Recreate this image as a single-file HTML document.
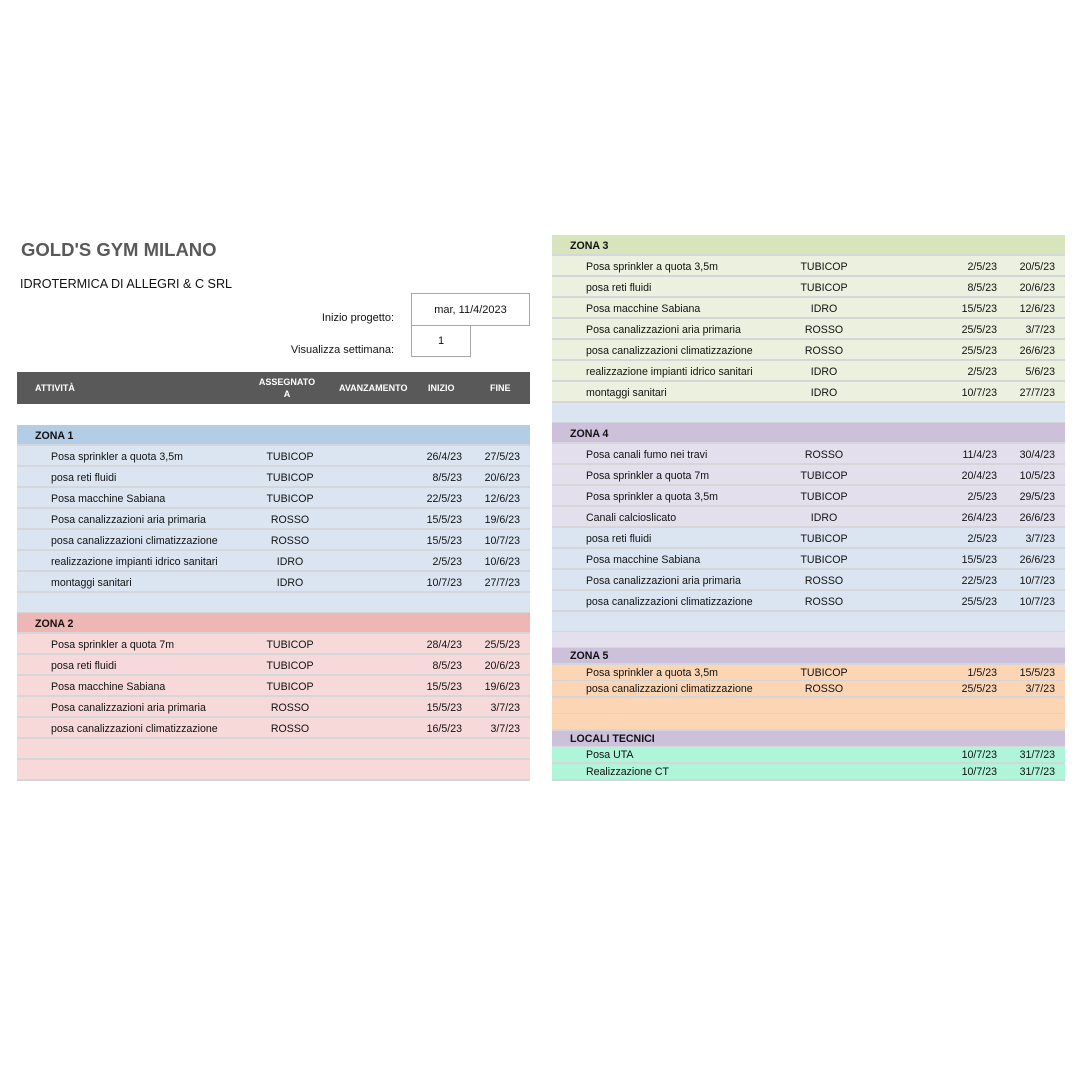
<!DOCTYPE html>
<html><head><meta charset="utf-8"><style>
body{margin:0;width:1080px;height:1080px;background:#fff;position:relative;font-family:"Liberation Sans",Arial,sans-serif;color:#111;overflow:hidden}
.a{position:absolute}
.r{position:absolute;height:19px;border-bottom:2px solid #d4d6d9;font-size:10.6px;line-height:22px;box-sizing:content-box}
.r span{position:absolute;white-space:nowrap}
.L{left:17px;width:513px}.R{left:552px;width:513px}
.L .t{left:34px}.L .z{left:18px;font-weight:bold}.L .s{left:213px;width:120px;text-align:center}.L .i{right:68px}.L .f{right:10px}
.R .t{left:34px}.R .z{left:18px;font-weight:bold}.R .s{left:212px;width:120px;text-align:center}.R .i{right:68px}.R .f{right:10px}
.b1h{background:#b4cde6}.b1{background:#dae5f1}
.b2h{background:#efb6b6}.b2{background:#f7d9d9}
.b3h{background:#d8e4bc}.b3{background:#ebf1de}
.b4h{background:#ccc0da}.b4{background:#e4dfec}
.b5{background:#fcd5b4}.b6{background:#aff5d9}
.sm{height:15px;line-height:17px}
</style></head><body>
<div class="a" style="left:21px;top:239px;font-size:18.5px;font-weight:bold;color:#595959">GOLD'S GYM MILANO</div>
<div class="a" style="left:20px;top:277px;font-size:12.6px">IDROTERMICA DI ALLEGRI &amp; C SRL</div>
<div class="a" style="left:250px;width:144px;text-align:right;top:312px;font-size:11px">Inizio progetto:</div>
<div class="a" style="left:250px;width:144px;text-align:right;top:344px;font-size:11px">Visualizza settimana:</div>
<div class="a" style="left:411px;top:293px;width:117px;height:31px;border:1px solid #a6a6a6;font-size:11px;text-align:center;line-height:32px">mar, 11/4/2023</div>
<div class="a" style="left:411px;top:325px;width:58px;height:31px;border:1px solid #a6a6a6;border-top:none;font-size:11px;text-align:center;line-height:32px">1</div>
<div class="a" style="left:17px;top:372px;width:513px;height:32px;background:#595959;color:#fff;font-size:9px;font-weight:bold">
<span class="a" style="left:18px;top:11px">ATTIVITÀ</span>
<span class="a" style="left:240px;width:60px;text-align:center;top:4px;line-height:12px">ASSEGNATO<br>A</span>
<span class="a" style="left:322px;top:11px">AVANZAMENTO</span>
<span class="a" style="left:411px;top:11px">INIZIO</span>
<span class="a" style="left:473px;top:11px">FINE</span>
</div>

<div class="r L b1h" style="top:425px"><span class="z">ZONA 1</span></div>
<div class="r L b1" style="top:446px"><span class="t">Posa sprinkler a quota 3,5m</span><span class="s">TUBICOP</span><span class="i">26/4/23</span><span class="f">27/5/23</span></div>
<div class="r L b1" style="top:467px"><span class="t">posa reti fluidi</span><span class="s">TUBICOP</span><span class="i">8/5/23</span><span class="f">20/6/23</span></div>
<div class="r L b1" style="top:488px"><span class="t">Posa macchine Sabiana</span><span class="s">TUBICOP</span><span class="i">22/5/23</span><span class="f">12/6/23</span></div>
<div class="r L b1" style="top:509px"><span class="t">Posa canalizzazioni aria primaria</span><span class="s">ROSSO</span><span class="i">15/5/23</span><span class="f">19/6/23</span></div>
<div class="r L b1" style="top:530px"><span class="t">posa canalizzazioni climatizzazione</span><span class="s">ROSSO</span><span class="i">15/5/23</span><span class="f">10/7/23</span></div>
<div class="r L b1" style="top:551px"><span class="t">realizzazione impianti idrico sanitari</span><span class="s">IDRO</span><span class="i">2/5/23</span><span class="f">10/6/23</span></div>
<div class="r L b1" style="top:572px"><span class="t">montaggi sanitari</span><span class="s">IDRO</span><span class="i">10/7/23</span><span class="f">27/7/23</span></div>
<div class="r L b1" style="top:593px"></div>
<div class="r L b2h" style="top:613px"><span class="z">ZONA 2</span></div>
<div class="r L b2" style="top:634px"><span class="t">Posa sprinkler a quota 7m</span><span class="s">TUBICOP</span><span class="i">28/4/23</span><span class="f">25/5/23</span></div>
<div class="r L b2" style="top:655px"><span class="t">posa reti fluidi</span><span class="s">TUBICOP</span><span class="i">8/5/23</span><span class="f">20/6/23</span></div>
<div class="r L b2" style="top:676px"><span class="t">Posa macchine Sabiana</span><span class="s">TUBICOP</span><span class="i">15/5/23</span><span class="f">19/6/23</span></div>
<div class="r L b2" style="top:697px"><span class="t">Posa canalizzazioni aria primaria</span><span class="s">ROSSO</span><span class="i">15/5/23</span><span class="f">3/7/23</span></div>
<div class="r L b2" style="top:718px"><span class="t">posa canalizzazioni climatizzazione</span><span class="s">ROSSO</span><span class="i">16/5/23</span><span class="f">3/7/23</span></div>
<div class="r L b2" style="top:739px"></div>
<div class="r L b2" style="top:760px"></div>

<div class="r R b3h" style="top:235px"><span class="z">ZONA 3</span></div>
<div class="r R b3" style="top:256px"><span class="t">Posa sprinkler a quota 3,5m</span><span class="s">TUBICOP</span><span class="i">2/5/23</span><span class="f">20/5/23</span></div>
<div class="r R b3" style="top:277px"><span class="t">posa reti fluidi</span><span class="s">TUBICOP</span><span class="i">8/5/23</span><span class="f">20/6/23</span></div>
<div class="r R b3" style="top:298px"><span class="t">Posa macchine Sabiana</span><span class="s">IDRO</span><span class="i">15/5/23</span><span class="f">12/6/23</span></div>
<div class="r R b3" style="top:319px"><span class="t">Posa canalizzazioni aria primaria</span><span class="s">ROSSO</span><span class="i">25/5/23</span><span class="f">3/7/23</span></div>
<div class="r R b3" style="top:340px"><span class="t">posa canalizzazioni climatizzazione</span><span class="s">ROSSO</span><span class="i">25/5/23</span><span class="f">26/6/23</span></div>
<div class="r R b3" style="top:361px"><span class="t">realizzazione impianti idrico sanitari</span><span class="s">IDRO</span><span class="i">2/5/23</span><span class="f">5/6/23</span></div>
<div class="r R b3" style="top:382px"><span class="t">montaggi sanitari</span><span class="s">IDRO</span><span class="i">10/7/23</span><span class="f">27/7/23</span></div>
<div class="r R b1" style="top:403px"></div>
<div class="r R b4h" style="top:423px"><span class="z">ZONA 4</span></div>
<div class="r R b4" style="top:444px"><span class="t">Posa canali fumo nei travi</span><span class="s">ROSSO</span><span class="i">11/4/23</span><span class="f">30/4/23</span></div>
<div class="r R b4" style="top:465px"><span class="t">Posa sprinkler a quota 7m</span><span class="s">TUBICOP</span><span class="i">20/4/23</span><span class="f">10/5/23</span></div>
<div class="r R b4" style="top:486px"><span class="t">Posa sprinkler a quota 3,5m</span><span class="s">TUBICOP</span><span class="i">2/5/23</span><span class="f">29/5/23</span></div>
<div class="r R b4" style="top:507px"><span class="t">Canali calcioslicato</span><span class="s">IDRO</span><span class="i">26/4/23</span><span class="f">26/6/23</span></div>
<div class="r R b1" style="top:528px"><span class="t">posa reti fluidi</span><span class="s">TUBICOP</span><span class="i">2/5/23</span><span class="f">3/7/23</span></div>
<div class="r R b1" style="top:549px"><span class="t">Posa macchine Sabiana</span><span class="s">TUBICOP</span><span class="i">15/5/23</span><span class="f">26/6/23</span></div>
<div class="r R b1" style="top:570px"><span class="t">Posa canalizzazioni aria primaria</span><span class="s">ROSSO</span><span class="i">22/5/23</span><span class="f">10/7/23</span></div>
<div class="r R b1" style="top:591px"><span class="t">posa canalizzazioni climatizzazione</span><span class="s">ROSSO</span><span class="i">25/5/23</span><span class="f">10/7/23</span></div>
<div class="r R b1" style="top:612px"></div>
<div class="r R b4 sm" style="top:632px"></div>
<div class="r R b4h sm" style="top:648px"><span class="z">ZONA 5</span></div>
<div class="r R b5 sm" style="top:665px"><span class="t">Posa sprinkler a quota 3,5m</span><span class="s">TUBICOP</span><span class="i">1/5/23</span><span class="f">15/5/23</span></div>
<div class="r R b5 sm" style="top:681px"><span class="t">posa canalizzazioni climatizzazione</span><span class="s">ROSSO</span><span class="i">25/5/23</span><span class="f">3/7/23</span></div>
<div class="r R b5 sm" style="top:698px"></div>
<div class="r R b5 sm" style="top:714px"></div>
<div class="r R b4h sm" style="top:731px"><span class="z">LOCALI TECNICI</span></div>
<div class="r R b6 sm" style="top:747px"><span class="t">Posa UTA</span><span class="i">10/7/23</span><span class="f">31/7/23</span></div>
<div class="r R b6 sm" style="top:764px"><span class="t">Realizzazione CT</span><span class="i">10/7/23</span><span class="f">31/7/23</span></div>
</body></html>
